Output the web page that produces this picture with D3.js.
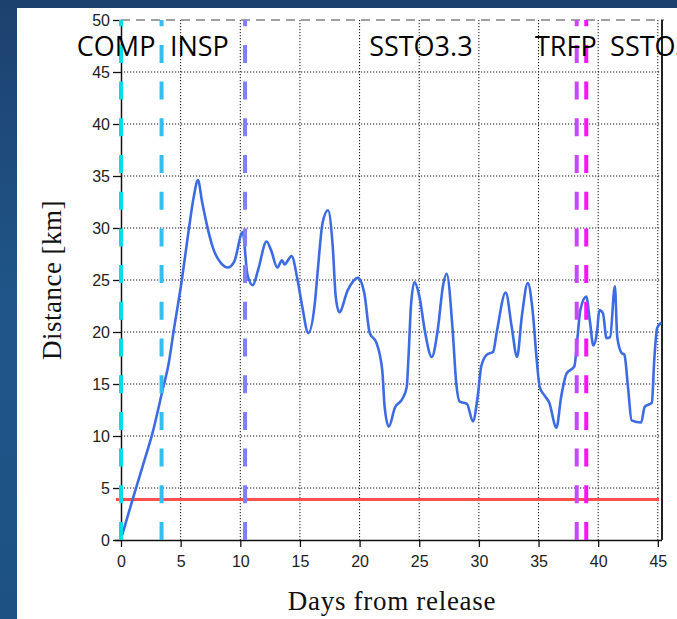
<!DOCTYPE html>
<html>
<head>
<meta charset="utf-8">
<script src="https://cdn.jsdelivr.net/npm/d3@7/dist/d3.min.js"></script>
<style>
  html, body { margin: 0; padding: 0; }
  body { width: 677px; height: 619px; overflow: hidden; background: #1e4a7c; }
  svg { display: block; }
</style>
</head>
<body>
<svg id="chart" width="677" height="619"></svg>
<script>
// Relative distance after release (days, km)
const days = [0.1, 1, 2, 2.6, 3.5, 4, 4.4, 5.1, 5.7, 6.1, 6.45, 6.8, 7.3, 7.8, 8.4, 8.95, 9.5, 10.2,
  10.6, 11.05, 11.5, 12.2, 12.6, 13.1, 13.5, 13.7, 14.3, 14.8, 15.2, 15.7, 16.25, 16.5, 16.9, 17.35,
  17.75, 18, 18.3, 19, 19.85, 20.4, 20.85, 21.4, 21.9, 22.1, 22.45, 22.95, 23.6, 23.95, 24.1, 24.3,
  24.6, 25.0, 25.5, 26.05, 26.55, 27.0, 27.3, 27.8, 28.1, 28.4, 29, 29.5, 29.9, 30.2, 30.65, 31.2,
  31.5, 32.25, 32.75, 33.2, 33.6, 34.1, 34.5, 34.85, 35.1, 35.5, 35.9, 36.5, 36.9, 37.35, 38, 38.3,
  38.5, 39.0, 39.3, 39.6, 39.9, 40.1, 40.4, 40.7, 41, 41.4, 41.6, 41.95, 42.2, 42.5, 42.8, 43.6,
  43.9, 44.5, 44.7, 44.95, 45.3];
const distance = [0.5, 4.0, 7.8, 10.1, 14.5, 17, 20, 25, 30, 33, 34.6, 32.5, 29.8, 27.8, 26.6, 26.2, 26.8, 29.6,
  25.5, 24.5, 26, 28.7, 27.8, 26.2, 26.9, 26.5, 27.3, 25, 22.4, 19.9, 22.8, 26, 30.5, 31.7,
  28.2, 23.4, 21.9, 24, 25.2, 23.7, 19.9, 19, 16.3, 12.8, 10.9, 12.7, 13.6, 14.7, 17.6, 22.4,
  24.8, 23.5, 19.9, 17.6, 20.2, 24.5, 25.6, 20.2, 15.1, 13.3, 13.1, 11.4, 13.8, 16.7, 17.8, 18.1,
  20, 23.8, 20.5, 17.6, 21.5, 24.7, 22.1, 17.3, 14.7, 13.9, 13.2, 10.8, 13.8, 16, 16.7, 19.9,
  22.1, 23.4, 21.1, 18.7, 20, 22.1, 21.8, 19.4, 19.5, 24.4, 19.5, 18, 17.8, 14.7, 11.5, 11.3,
  12.8, 13.2, 17.3, 20.4, 20.9];

// Safety threshold (km)
const threshold = 3.9;

// Mission events (day of each phase change)
const eventDays = [0, 3.4, 10.4, 38.2, 39.0];
const eventColors = ["#00dde6", "#35bdf2", "#7f7ff7", "#c947fb", "#ff10ff"];

// Phase labels along the top of the plot
const phaseNames = ["COMP", "INSP", "SSTO3.3", "TRFP", "SSTO3.3"];
const phaseStart = [-3.7, 4.1, 20.8, 34.7, 41.0];

const xTicks = d3.range(0, 50, 5);
const yTicks = d3.range(0, 55, 5);

// ---- layout ----
const W = 677, H = 619;
const plot = { left: 121, top: 20, right: 662, bottom: 540 };

const x = d3.scaleLinear().domain([0, 45.35]).range([plot.left, plot.right]);
const y = d3.scaleLinear().domain([0, 50]).range([plot.bottom, plot.top]);

const svg = d3.select("#chart");

// slide background
const defs = svg.append("defs");
const bg = defs.append("linearGradient").attr("id", "bg")
  .attr("x1", 0).attr("y1", 0).attr("x2", 0).attr("y2", 1);
bg.append("stop").attr("offset", 0).attr("stop-color", "#1d416f");
bg.append("stop").attr("offset", 0.5).attr("stop-color", "#1f5689");
bg.append("stop").attr("offset", 1).attr("stop-color", "#1d5183");
svg.append("rect").attr("width", W).attr("height", H).attr("fill", "url(#bg)");

// white figure panel
svg.append("rect").attr("x", 17).attr("y", 8).attr("width", W - 17).attr("height", H - 8)
  .attr("fill", "#ffffff");

// dotted grid
const grid = svg.append("g");
grid.selectAll("line.gx").data(xTicks.filter(d => d > 0)).join("line")
  .attr("x1", d => x(d)).attr("x2", d => x(d))
  .attr("y1", plot.top).attr("y2", plot.bottom)
  .attr("stroke", "#111").attr("stroke-width", 1).attr("stroke-dasharray", "1.2,1.8");
grid.selectAll("line.gy").data(yTicks.filter(d => d > 0 && d < 50)).join("line")
  .attr("x1", plot.left).attr("x2", plot.right)
  .attr("y1", d => y(d)).attr("y2", d => y(d))
  .attr("stroke", "#111").attr("stroke-width", 1).attr("stroke-dasharray", "1.2,1.8");

// top border (dashed grey) and right border
svg.append("line").attr("x1", plot.left).attr("x2", plot.right + 2)
  .attr("y1", y(50)).attr("y2", y(50))
  .attr("stroke", "#a0a0a0").attr("stroke-width", 2.2).attr("stroke-dasharray", "9,6");
svg.append("line").attr("x1", plot.right).attr("x2", plot.right)
  .attr("y1", plot.top).attr("y2", plot.bottom)
  .attr("stroke", "#222").attr("stroke-width", 2);

// axes
const xAxis = d3.axisBottom(x).tickValues(xTicks).tickSize(7).tickSizeOuter(0);
const yAxis = d3.axisLeft(y).tickValues(yTicks).tickSize(8).tickSizeOuter(0);

const gx = svg.append("g").attr("transform", `translate(0,${plot.bottom})`).call(xAxis);
gx.select(".domain").attr("d", `M${plot.left - 6},0.5H${plot.right}`).attr("stroke", "#111").attr("stroke-width", 1.5);
gx.selectAll(".tick line").attr("stroke", "#111").attr("stroke-width", 1.3);
gx.selectAll(".tick text").attr("font-family", "Liberation Sans, Arial, sans-serif")
  .attr("font-size", 16).attr("fill", "#222").attr("dy", "1.05em");

const gy = svg.append("g").attr("transform", `translate(${plot.left},0)`).call(yAxis);
gy.select(".domain").attr("stroke", "#111").attr("stroke-width", 1.5);
gy.selectAll(".tick line").attr("stroke", "#111").attr("stroke-width", 1.3);
gy.selectAll(".tick text").attr("font-family", "Liberation Sans, Arial, sans-serif")
  .attr("font-size", 16).attr("fill", "#222").attr("x", -11);

// threshold
svg.append("line").attr("x1", plot.left - 5).attr("x2", x(45.1))
  .attr("y1", y(threshold)).attr("y2", y(threshold))
  .attr("stroke", "#ff4f4f").attr("stroke-width", 3);

// distance curve
const series = days.map((d, i) => [d, distance[i]]);
const line = d3.line().x(d => x(d[0])).y(d => y(d[1])).curve(d3.curveMonotoneX);
svg.append("path").datum(series).attr("d", line)
  .attr("fill", "none").attr("stroke", "#3d6be2").attr("stroke-width", 2.6)
  .attr("stroke-linejoin", "round");

// event markers, drawn bottom-up so the dash phase starts at the axis
svg.append("g").selectAll("line").data(eventDays).join("line")
  .attr("x1", d => x(d)).attr("x2", d => x(d))
  .attr("y1", plot.bottom).attr("y2", plot.top)
  .attr("stroke", (d, i) => eventColors[i])
  .attr("stroke-width", 4)
  .attr("stroke-dasharray", "18,18.7");

// phase labels
svg.append("g").selectAll("text").data(phaseNames).join("text")
  .attr("x", (d, i) => x(phaseStart[i]))
  .attr("y", 56)
  .attr("font-family", "Open Sans, Noto Sans, sans-serif")
  .attr("font-size", 27)
  .attr("fill", "#000")
  .text(d => d);

// axis titles
svg.append("text")
  .attr("x", 392).attr("y", 610)
  .attr("text-anchor", "middle")
  .attr("font-family", "Liberation Serif, Times New Roman, serif")
  .attr("font-size", 27).attr("letter-spacing", 0.7).attr("fill", "#111")
  .text("Days from release");

svg.append("text")
  .attr("transform", "translate(61,280) rotate(-90)")
  .attr("text-anchor", "middle")
  .attr("font-family", "Liberation Serif, Times New Roman, serif")
  .attr("font-size", 27).attr("letter-spacing", 0.5).attr("fill", "#111")
  .text("Distance [km]");
</script>
</body>
</html>
